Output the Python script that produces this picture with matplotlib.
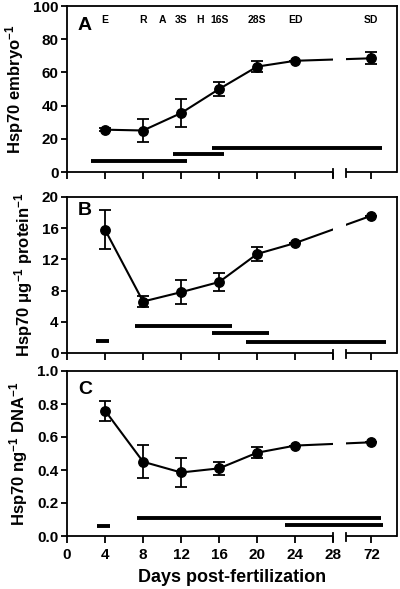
import matplotlib
matplotlib.use('Agg')
import matplotlib.pyplot as plt
from matplotlib.patches import Rectangle
from matplotlib.transforms import blended_transform_factory

plt.rcParams['font.family'] = ['Liberation Sans', 'DejaVu Sans']
plt.rcParams['font.weight'] = 'bold'
plt.rcParams['mathtext.fontset'] = 'custom'
plt.rcParams['mathtext.rm'] = 'Liberation Sans:bold'
plt.rcParams['mathtext.default'] = 'rm'

# Data (dage efter befrugtning)
days = [4, 8, 12, 16, 20, 24, 72]
x_ticks_days = [0, 4, 8, 12, 16, 20, 24, 28, 72]

embryo_mean = [25.5, 25.0, 35.5, 50.0, 63.5, 67.0, 68.5]
embryo_err = [1.0, 7.0, 8.5, 4.5, 3.5, 0.0, 3.5]
protein_mean = [15.8, 6.6, 7.8, 9.1, 12.7, 14.1, 17.6]
protein_err = [2.5, 0.7, 1.5, 1.1, 0.9, 0.0, 0.0]
dna_mean = [0.76, 0.45, 0.385, 0.41, 0.505, 0.548, 0.568]
dna_err = [0.06, 0.10, 0.09, 0.04, 0.035, 0.0, 0.0]

stages = ['E', 'R', 'A', '3S', 'H', '16S', '28S', 'ED', 'SD']
stage_days = [4, 8, 10, 12, 14, 16, 20, 24, 72]

# signifikans-linjer: (start, slut, y) i aksens enheder
bars_a = [(2.5, 12.6, 6.8), (11.1, 16.5, 10.8), (15.2, 33.1, 14.6)]
bars_b = [(3.0, 4.4, 1.6), (7.1, 17.4, 3.5), (15.2, 21.2, 2.6), (18.8, 33.5, 1.4)]
bars_c = [(3.2, 4.5, 0.062), (7.4, 33.05, 0.11), (22.9, 33.2, 0.066)]

BREAK_L = 28.0
BREAK_R = 29.3
XMAX = 34.7


def xpos(d):
    # akse-brud: 72 dage tegnes ved position 32
    return d if d <= 28 else 32


fig = plt.figure(figsize=(4, 5.89), dpi=100)
W, H = 400, 589
boxes = [(6, 172), (197, 353), (371, 536)]
axes = []
for top, bot in boxes:
    axes.append(fig.add_axes([67 / W, 1 - bot / H, 330 / W, (bot - top) / H]))

panels = [
    (axes[0], embryo_mean, embryo_err, bars_a, (0, 100), [0, 20, 40, 60, 80, 100],
     'Hsp70 embryo$^{-1}$', 'A', 0.885, '{:.0f}'),
    (axes[1], protein_mean, protein_err, bars_b, (0, 20), [0, 4, 8, 12, 16, 20],
     'Hsp70 μg$^{-1}$ protein$^{-1}$', 'B', 0.915, '{:.0f}'),
    (axes[2], dna_mean, dna_err, bars_c, (0, 1), [0, 0.2, 0.4, 0.6, 0.8, 1.0],
     'Hsp70 ng$^{-1}$ DNA$^{-1}$', 'C', 0.885, '{:.1f}'),
]

xs = [xpos(d) for d in days]
for ax, mean, err, bars, ylim, yticks, ylabel, letter, ly, fmt in panels:
    trans = blended_transform_factory(ax.transData, ax.transAxes)
    ax.set_xlim(0, XMAX)
    ax.set_ylim(*ylim)

    # linje med brud
    for x0, x1 in [(-1, BREAK_L), (BREAK_R, XMAX + 1)]:
        ln, = ax.plot(xs, mean, color='black', lw=1.5, zorder=3)
        ln.set_clip_path(Rectangle((x0, -1), x1 - x0, 3, transform=trans))
    ax.errorbar(xs, mean, yerr=err, fmt='o', color='black', ms=6.8,
                capsize=4, elinewidth=1.3, capthick=1.3, zorder=4)

    for x0, x1, y in bars:
        ax.plot([x0, x1], [y, y], color='black', lw=2.8, solid_capstyle='butt')

    for s in ['top', 'right', 'left']:
        ax.spines[s].set_linewidth(1.3)
    ax.spines['bottom'].set_visible(False)
    for x0, x1 in [(0, BREAK_L), (BREAK_R, XMAX)]:
        ax.plot([x0, x1], [0, 0], color='black', lw=1.3, transform=trans,
                clip_on=False, solid_capstyle='butt')
    for xb in [BREAK_L, BREAK_R]:
        ax.plot([xb, xb], [-0.03, 0.018], color='black', lw=1.3,
                transform=trans, clip_on=False)

    ax.set_xticks([xpos(d) for d in x_ticks_days])
    ax.set_yticks(yticks)
    ax.set_yticklabels([fmt.format(v) for v in yticks])
    ax.tick_params(axis='both', direction='out', width=1.3, labelsize=11)
    ax.tick_params(axis='x', length=5)
    ax.tick_params(axis='y', length=4, pad=2)
    ax.set_ylabel(ylabel, fontsize=12, fontweight='bold', labelpad=5)
    ax.text(0.033, ly, letter, transform=ax.transAxes, fontsize=14,
            fontweight='bold', ha='left', va='center')

for ax in axes[:2]:
    ax.set_xticklabels([])
axes[2].set_xticklabels([str(d) for d in x_ticks_days])
axes[2].set_xlabel('Days post-fertilization', fontsize=13, fontweight='bold', labelpad=5)

for s, d in zip(stages, stage_days):
    axes[0].text(xpos(d), 0.915, s, transform=blended_transform_factory(axes[0].transData, axes[0].transAxes),
                 ha='center', va='center', fontsize=7.5, fontweight='bold')

fig.savefig('out.png', dpi=100)
